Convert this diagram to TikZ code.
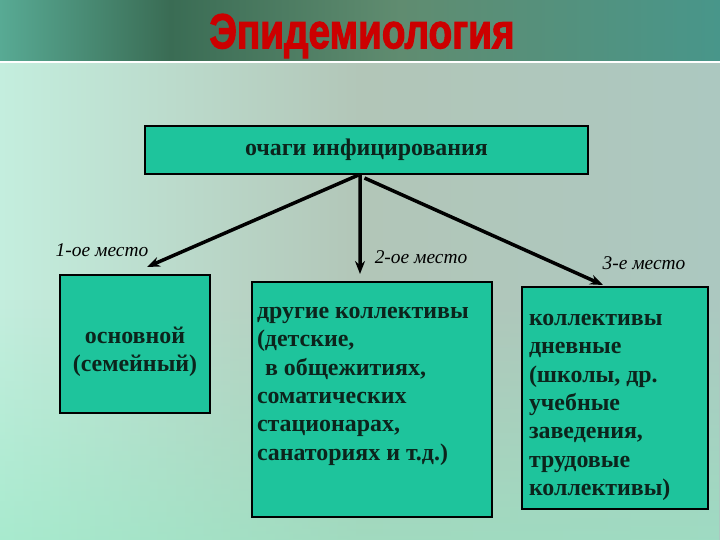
\documentclass[tikz,border=0pt]{standalone}
\usepackage{fontspec}
\setmainfont{Liberation Serif}
\newfontfamily\titlefont{Liberation Sans}[FakeBold=2.5]
\usetikzlibrary{positioning,calc,arrows.meta,fadings}
\definecolor{boxfill}{RGB}{30,196,156}
\definecolor{boxtext}{RGB}{12,36,28}
\definecolor{titlered}{RGB}{204,0,0}
\definecolor{bandL}{RGB}{88,170,148}
\definecolor{bandD}{RGB}{58,108,84}
\definecolor{bandM}{RGB}{96,140,112}
\definecolor{bandR}{RGB}{72,150,138}
\definecolor{bgL}{RGB}{196,238,222}
\definecolor{bgM}{RGB}{178,198,184}
\definecolor{bgR}{RGB}{172,200,192}
\definecolor{bgLow}{RGB}{150,232,196}
\tikzset{
  box/.style={draw=black, line width=2bp, fill=boxfill, text=boxtext,
    font=\bfseries\fontsize{24}{28.5}\selectfont, inner sep=0pt},
  place/.style={font=\itshape\fontsize{19.5}{22}\selectfont, text=black},
  link/.style={-{Stealth[length=13bp,width=10bp]}, line width=3.5bp}
}
\begin{document}
\begin{tikzpicture}[x=1bp,y=-1bp]
    \useasboundingbox (0,0) rectangle (720,540);
    \shade[left color=bandL, right color=bandD] (0,0) rectangle (170,61);
    \shade[left color=bandD, right color=bandM] (170,0) rectangle (400,61);
    \shade[left color=bandM, right color=bandR] (400,0) rectangle (720,61);
    \fill[white] (0,61) rectangle (720,63.5);
    \shade[left color=bgL, right color=bgR, middle color=bgM] (0,63.5) rectangle (720,540);
    \fill[bgLow, path fading=north, opacity=0.6] (0,300) rectangle (720,540);

    \node[text=titlered] (title) at (362,36)
        {\resizebox*{305bp}{44bp}{\titlefont\bfseries Эпидемиология}};

    \node[box, minimum width=443bp, minimum height=48bp] (focus) at (366.5,150)
        {очаги инфицирования};

    \node[box, minimum width=150bp, minimum height=138bp] (place1) at (135,344)
        {\parbox[c][138bp][t]{150bp}{\centering\vspace*{52bp}основной\\(семейный)}};
    \node[box, minimum width=240bp, minimum height=235bp] (place2) at (372,399.5)
        {\parbox[c][235bp][t]{230bp}{\vspace*{25bp}другие коллективы\\(детские,\\\hspace*{8bp}в общежитиях,\\соматических\\стационарах,\\санаториях и т.д.)}};
    \node[box, minimum width=186bp, minimum height=222bp] (place3) at (615,398)
        {\parbox[c][222bp][t]{172bp}{\vspace*{27bp}коллективы\\дневные\\(школы, др.\\учебные\\заведения,\\трудовые\\коллективы)}};

    \node[place] (lab1) at (102,250) {1-ое место};
    \node[place] (lab2) at (421,257) {2-ое место};
    \node[place] (lab3) at (644,263) {3-е место};

    \draw[link] ([xshift=-8bp]focus.south) -- ($(place1.north)+(12,-7)$);
    \draw[link] ([xshift=-6.5bp]focus.south) -- ($(place2.north)+(-12,-7)$);
    \draw[link] ([xshift=-2bp,yshift=-3bp]focus.south) -- ($(place3.north)+(-12,-1)$);
\end{tikzpicture}
\end{document}
